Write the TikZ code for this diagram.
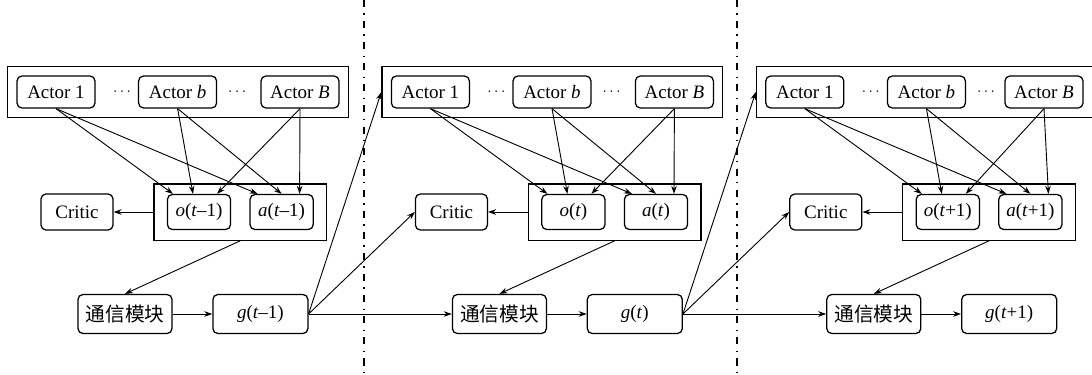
\documentclass[tikz,border=0pt]{standalone}
\usepackage{fontspec}
\setmainfont{Liberation Serif}
\newfontfamily\cjk{Noto Sans CJK SC}
\usepackage{tikz}
\usetikzlibrary{arrows.meta, positioning, fit, calc}

\begin{document}
\begin{tikzpicture}[
    box/.style={rectangle, draw, rounded corners=3.5pt, line width=0.9pt,
                minimum height=0.8cm, inner sep=2pt, font=\fontsize{13.5}{16}\selectfont},
    actor/.style={box, minimum width=1.95cm},
    state/.style={box, minimum width=1.58cm, minimum height=0.875cm},
    critic/.style={box, minimum width=1.8cm, minimum height=0.9cm},
    comm/.style={box, minimum width=2.35cm, minimum height=0.975cm, font=\cjk\fontsize{14}{16}\selectfont},
    gbox/.style={box, minimum width=2.375cm, minimum height=0.975cm},
    dots/.style={font=\fontsize{10.5}{12}\selectfont},
    group/.style={rectangle, draw, line width=0.9pt, inner sep=0.22cm},
    arrow/.style={-{Stealth[length=2mm, width=1.4mm]}, line width=0.65pt},
    sep/.style={line width=1.3pt, dash pattern=on 5pt off 4.5pt on 1pt off 4.5pt}
]
    \useasboundingbox (0,0) rectangle (27.3,-9.35);

    % Step t-1
    \node[actor] (fa1) at (1.4,-2.3) {Actor 1};
    \node[dots] (da1) at (3.05,-2.3) {$\cdots$};
    \node[actor] (ma1) at (4.44,-2.3) {Actor \textit{b}};
    \node[dots] (db1) at (5.93,-2.3) {$\cdots$};
    \node[actor] (la1) at (7.5,-2.3) {Actor \textit{B}};
    \node[group, fit=(fa1)(la1)] (ac1) {};
    \node[state] (ob1) at (4.975,-5.3) {\textit{o}(\textit{t}–1)};
    \node[state] (an1) at (7.04,-5.3) {\textit{a}(\textit{t}–1)};
    \node[group, inner xsep=0.32cm, inner ysep=0.25cm, fit=(ob1)(an1)] (oa1) {};
    \node[critic] (cr1) at (1.925,-5.3) {Critic};
    \node[comm] (cm1) at (3.125,-7.85) {通信模块};
    \node[gbox] (g1) at (6.51,-7.85) {\textit{g}(\textit{t}–1)};
    \draw[arrow] (fa1.south) -- ([xshift=-0.65cm]ob1.north);
    \draw[arrow] (fa1.south) -- ([xshift=-0.6cm]an1.north);
    \draw[arrow] (ma1.south) -- ([xshift=-0.15cm]ob1.north);
    \draw[arrow] (ma1.south) -- (an1.north);
    \draw[arrow] (la1.south) -- ([xshift=0.45cm]ob1.north);
    \draw[arrow] (la1.south) -- ([xshift=0.45cm]an1.north);
    \draw[arrow] (oa1.west) -- (cr1.east);
    \draw[arrow] (oa1.south) -- (cm1.north);
    \draw[arrow] (cm1) -- (g1);

    % Step t
    \node[actor] (fa2) at (10.76,-2.3) {Actor 1};
    \node[dots] (da2) at (12.41,-2.3) {$\cdots$};
    \node[actor] (ma2) at (13.8,-2.3) {Actor \textit{b}};
    \node[dots] (db2) at (15.29,-2.3) {$\cdots$};
    \node[actor] (la2) at (16.86,-2.3) {Actor \textit{B}};
    \node[group, fit=(fa2)(la2)] (ac2) {};
    \node[state] (ob2) at (14.335,-5.3) {\textit{o}(\textit{t})};
    \node[state] (an2) at (16.4,-5.3) {\textit{a}(\textit{t})};
    \node[group, inner xsep=0.32cm, inner ysep=0.25cm, fit=(ob2)(an2)] (oa2) {};
    \node[critic] (cr2) at (11.285,-5.3) {Critic};
    \node[comm] (cm2) at (12.485,-7.85) {通信模块};
    \node[gbox] (g2) at (15.87,-7.85) {\textit{g}(\textit{t})};
    \draw[arrow] (fa2.south) -- ([xshift=-0.65cm]ob2.north);
    \draw[arrow] (fa2.south) -- ([xshift=-0.6cm]an2.north);
    \draw[arrow] (ma2.south) -- ([xshift=-0.15cm]ob2.north);
    \draw[arrow] (ma2.south) -- (an2.north);
    \draw[arrow] (la2.south) -- ([xshift=0.45cm]ob2.north);
    \draw[arrow] (la2.south) -- ([xshift=0.45cm]an2.north);
    \draw[arrow] (oa2.west) -- (cr2.east);
    \draw[arrow] (oa2.south) -- (cm2.north);
    \draw[arrow] (cm2) -- (g2);

    % Step t+1
    \node[actor] (fa3) at (20.12,-2.3) {Actor 1};
    \node[dots] (da3) at (21.77,-2.3) {$\cdots$};
    \node[actor] (ma3) at (23.16,-2.3) {Actor \textit{b}};
    \node[dots] (db3) at (24.65,-2.3) {$\cdots$};
    \node[actor] (la3) at (26.1,-2.3) {Actor \textit{B}};
    \node[group, fit=(fa3)(la3)] (ac3) {};
    \node[state] (ob3) at (23.695,-5.3) {\textit{o}(\textit{t}+1)};
    \node[state] (an3) at (25.76,-5.3) {\textit{a}(\textit{t}+1)};
    \node[group, inner xsep=0.32cm, inner ysep=0.25cm, fit=(ob3)(an3)] (oa3) {};
    \node[critic] (cr3) at (20.645,-5.3) {Critic};
    \node[comm] (cm3) at (21.845,-7.85) {通信模块};
    \node[gbox] (g3) at (25.23,-7.85) {\textit{g}(\textit{t}+1)};
    \draw[arrow] (fa3.south) -- ([xshift=-0.65cm]ob3.north);
    \draw[arrow] (fa3.south) -- ([xshift=-0.6cm]an3.north);
    \draw[arrow] (ma3.south) -- ([xshift=-0.15cm]ob3.north);
    \draw[arrow] (ma3.south) -- (an3.north);
    \draw[arrow] (la3.south) -- ([xshift=0.45cm]ob3.north);
    \draw[arrow] (la3.south) -- ([xshift=0.45cm]an3.north);
    \draw[arrow] (oa3.west) -- (cr3.east);
    \draw[arrow] (oa3.south) -- (cm3.north);
    \draw[arrow] (cm3) -- (g3);

    % links between steps
    \draw[arrow] (g1.east) -- (ac2.west);
    \draw[arrow] (g1.east) -- (cr2.west);
    \draw[arrow] (g1.east) -- (cm2.west);
    \draw[arrow] (g2.east) -- (ac3.west);
    \draw[arrow] (g2.east) -- (cr3.west);
    \draw[arrow] (g2.east) -- (cm3.west);

    % separators
    \draw[sep] (9.1,0) -- (9.1,-9.35);
    \draw[sep] (18.43,0) -- (18.43,-9.35);
\end{tikzpicture}
\end{document}
